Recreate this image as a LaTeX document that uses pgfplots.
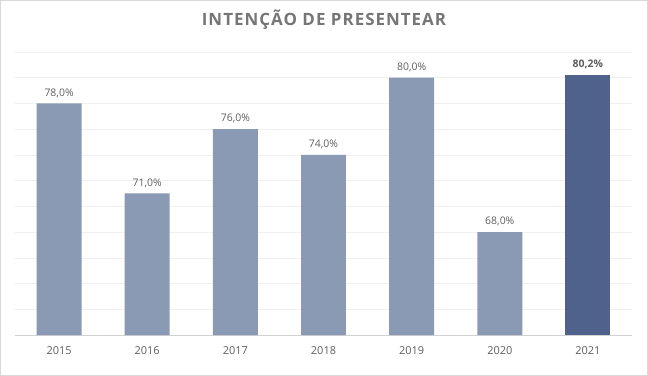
\documentclass[border=0pt]{standalone}
\usepackage{pgfplots}
\pgfplotsset{compat=1.18}
\usepackage{fontspec}
\setmainfont{Open Sans}
\newfontfamily\titlefont[LetterSpace=6]{Open Sans}
\definecolor{barlight}{RGB}{138,154,181}
\definecolor{bardark}{RGB}{78,98,140}
\definecolor{txt}{RGB}{95,95,95}
\definecolor{ttl}{RGB}{118,118,118}
\begin{document}
\begin{tikzpicture}
\useasboundingbox (-15bp,-41bp) rectangle (633bp,335bp);
\fill[white] (-15bp,-41bp) rectangle (633bp,335bp);
\draw[gray!30, line width=0.8bp] (-14.6bp,-40.6bp) rectangle (632.6bp,334.6bp);
\begin{axis}[
  at={(0,0)}, anchor=south west,
  scale only axis, width=617bp, height=283bp,
  xmin=-0.5, xmax=6.5, ymin=60, ymax=82,
  ybar, bar width=0.51, bar shift=0pt,
  ytick={60,62,...,82}, yticklabels={},
  ymajorgrids, major grid style={draw=gray!12, line width=0.6bp},
  axis x line*=bottom, axis y line*=left,
  y axis line style={draw=none},
  x axis line style={draw=gray!35, line width=0.8bp},
  ytick style={draw=none},
  xtick={0,...,6}, xticklabels={2015,2016,2017,2018,2019,2020,2021},
  xtick style={draw=none},
  extra x ticks={-0.5,0.5,...,6.5}, extra x tick labels={},
  extra x tick style={grid=none, major tick length=5bp, tick align=outside,
     tick style={draw=gray!35, line width=0.8bp}},
  xticklabel style={font=\fontsize{11}{13}\selectfont, text=txt, yshift=-4bp},
  nodes near coords={\pgfplotspointmeta\%},
  point meta=explicit symbolic,
  clip=false,
]
\addplot[fill=barlight, draw=none,
  every node near coord/.append style={font=\fontsize{10.5}{12}\selectfont, text=txt, yshift=2.5bp}]
  table[meta=label] {
x y label
0 78 78,0
1 71 71,0
2 76 76,0
3 74 74,0
4 80 80,0
5 68 68,0
};
\addplot[fill=bardark, draw=none,
  every node near coord/.append style={font=\bfseries\fontsize{10.5}{12}\selectfont, text=txt, yshift=2.5bp}]
  table[meta=label] {
x y label
6 80.2 80,2
};
\end{axis}
\node[font=\titlefont\bfseries\fontsize{17}{20}\selectfont, text=ttl] at (309bp,315bp) {INTENÇÃO DE PRESENTEAR};
\end{tikzpicture}
\end{document}
